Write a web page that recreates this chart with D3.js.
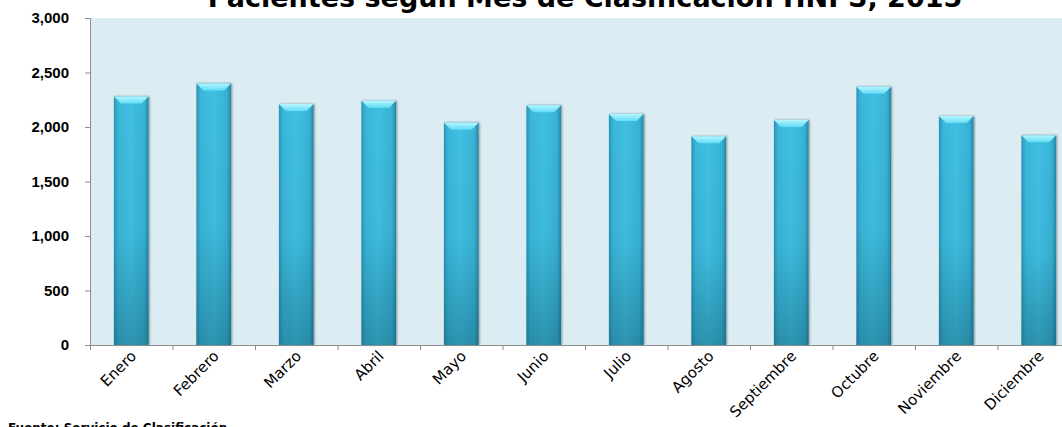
<!DOCTYPE html>
<html>
<head>
<meta charset="utf-8">
<script src="https://cdnjs.cloudflare.com/ajax/libs/d3/7.8.5/d3.min.js"></script>
<style>
  body { margin: 0; background: #fff; overflow: hidden; }
  svg { display: block; }
</style>
</head>
<body>
<script>
// chart data
var months = ['Enero', 'Febrero', 'Marzo', 'Abril', 'Mayo', 'Junio', 'Julio', 'Agosto', 'Septiembre', 'Octubre', 'Noviembre', 'Diciembre'];
var pacientes = [2280, 2400, 2210, 2240, 2040, 2200, 2120, 1915, 2065, 2370, 2100, 1925];
var yTicks = [0, 500, 1000, 1500, 2000, 2500, 3000];

var W = 1062, H = 427;
var margin = {top: 18, left: 90};
var plotW = 990, plotH = 327;

var svg = d3.select('body').append('svg')
    .attr('width', W)
    .attr('height', H);

var defs = svg.append('defs');

// horizontal shading for the cylinder-ish bars
var hg = defs.append('linearGradient').attr('id', 'barH').attr('x1', 0).attr('x2', 1).attr('y1', 0).attr('y2', 0);
hg.append('stop').attr('offset', '0%').attr('stop-color', '#2a93b3');
hg.append('stop').attr('offset', '12%').attr('stop-color', '#3ab6d9');
hg.append('stop').attr('offset', '50%').attr('stop-color', '#40c0e3');
hg.append('stop').attr('offset', '88%').attr('stop-color', '#38b2d5');
hg.append('stop').attr('offset', '100%').attr('stop-color', '#2686a3');

// vertical darkening toward the base
var vg = defs.append('linearGradient').attr('id', 'barV').attr('x1', 0).attr('x2', 0).attr('y1', 0).attr('y2', 1);
vg.append('stop').attr('offset', '0%').attr('stop-color', '#0d4a5c').attr('stop-opacity', 0);
vg.append('stop').attr('offset', '55%').attr('stop-color', '#0d4a5c').attr('stop-opacity', 0.05);
vg.append('stop').attr('offset', '100%').attr('stop-color', '#0d4a5c').attr('stop-opacity', 0.38);

var cg = defs.append('linearGradient').attr('id', 'cap').attr('x1', 0).attr('x2', 0).attr('y1', 0).attr('y2', 1);
cg.append('stop').attr('offset', '0%').attr('stop-color', '#b5f6ff');
cg.append('stop').attr('offset', '100%').attr('stop-color', '#62dcf5');

var sh = defs.append('filter').attr('id', 'shadow').attr('x', '-20%').attr('y', '-5%').attr('width', '140%').attr('height', '110%');
sh.append('feDropShadow').attr('dx', 1).attr('dy', 0).attr('stdDeviation', 1.2).attr('flood-color', '#000').attr('flood-opacity', 0.4);

// title (partly cut off at the top like the original)
svg.append('text')
    .attr('x', 585)
    .attr('y', 7)
    .attr('text-anchor', 'middle')
    .style('font-family', '"DejaVu Sans", sans-serif')
    .style('font-weight', 'bold')
    .style('font-size', '27px')
    .text('Pacientes según Mes de Clasificación HNPS, 2015');

var g = svg.append('g').attr('transform', 'translate(' + margin.left + ',' + margin.top + ')');

var x = d3.scaleBand().domain(months).range([0, plotW]).paddingInner(0.58).paddingOuter(0.29);
var y = d3.scaleLinear().domain([0, 3000]).range([plotH, 0]);

// plot area
g.append('rect')
    .attr('width', plotW)
    .attr('height', plotH)
    .attr('fill', '#dbedf3');

// y axis
var yAxis = g.append('g').call(d3.axisLeft(y).tickValues(yTicks).tickSize(5).tickPadding(16).tickFormat(d3.format(',')));
yAxis.select('.domain').attr('stroke', '#8c8c8c').attr('d', 'M-5,0.5H0.5V' + plotH);
yAxis.selectAll('.tick line').attr('stroke', '#8c8c8c');
yAxis.selectAll('text')
    .style('font-family', '"Liberation Sans", Arial, sans-serif')
    .style('font-weight', 'bold')
    .style('font-size', '15px')
    .attr('fill', '#000');

// bars
var bars = g.selectAll('.bar').data(pacientes).enter().append('g').attr('class', 'bar');
bars.append('rect')
    .attr('x', function(d, i) { return x(months[i]); })
    .attr('y', function(d) { return y(d); })
    .attr('width', x.bandwidth())
    .attr('height', function(d) { return plotH - y(d); })
    .attr('fill', 'url(#barH)')
    .attr('filter', 'url(#shadow)');
bars.append('rect')
    .attr('x', function(d, i) { return x(months[i]); })
    .attr('y', function(d) { return y(d); })
    .attr('width', x.bandwidth())
    .attr('height', function(d) { return plotH - y(d); })
    .attr('fill', 'url(#barV)');
bars.append('path')
    .attr('d', function(d, i) {
        var x0 = x(months[i]), x1 = x0 + x.bandwidth(), t = y(d);
        return 'M' + x0 + ',' + t + 'L' + x1 + ',' + t + 'L' + (x1 - 7) + ',' + (t + 7) + 'L' + (x0 + 7) + ',' + (t + 7) + 'Z';
    })
    .attr('fill', 'url(#cap)');

// x axis
var step = x.step();
var xg = g.append('g').attr('transform', 'translate(0,' + plotH + ')');
xg.append('line').attr('x1', 0).attr('x2', plotW).attr('y1', 0.5).attr('y2', 0.5).attr('stroke', '#8c8c8c');
xg.selectAll('.xt').data(d3.range(months.length + 1)).enter().append('line')
    .attr('x1', function(i) { return 0.5 + i * step; })
    .attr('x2', function(i) { return 0.5 + i * step; })
    .attr('y1', 0).attr('y2', 5)
    .attr('stroke', '#8c8c8c');
xg.selectAll('.xl').data(months).enter().append('text')
    .attr('transform', function(d) { return 'translate(' + (x(d) + x.bandwidth() / 2 + 6) + ',12) rotate(-45)'; })
    .attr('text-anchor', 'end')
    .style('font-family', '"DejaVu Sans", sans-serif')
    .style('font-size', '15px')
    .attr('fill', '#000')
    .text(function(d) { return d; });

// source note, mostly cut off at the bottom
svg.append('text')
    .attr('x', 8)
    .attr('y', 432)
    .style('font-family', '"DejaVu Sans", sans-serif')
    .style('font-weight', 'bold')
    .style('font-size', '12px')
    .text('Fuente: Servicio de Clasificación');
</script>
</body>
</html>
